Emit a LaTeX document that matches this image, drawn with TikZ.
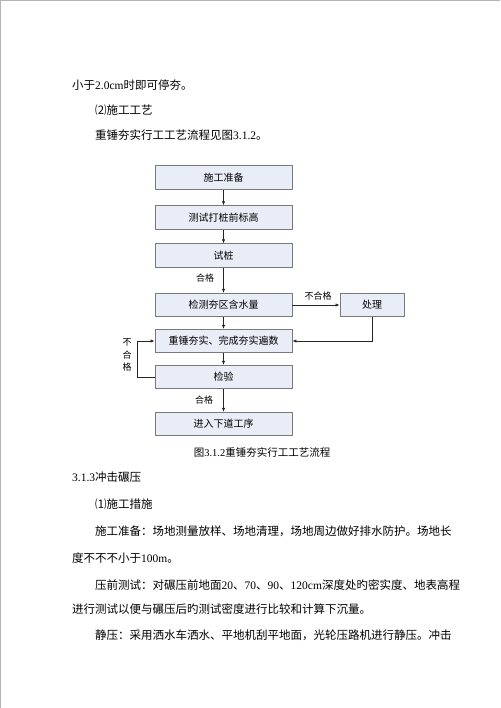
\documentclass[tikz,border=0pt]{standalone}
\usepackage{fontspec}
\setmainfont{Liberation Serif}
\newfontfamily\cjk{Noto Sans CJK SC}
\usepackage{xcolor}
\definecolor{BoxFill}{HTML}{E9EDF7}
\definecolor{BoxLine}{HTML}{7A7A7A}
\definecolor{PageEdge}{HTML}{B4B4B4}
\usepackage{tikz}
\usetikzlibrary{arrows.meta,positioning}

\tikzset{
  stepbox/.style={draw=BoxLine, fill=BoxFill, line width=0.7pt, minimum width=137pt, minimum height=23.5pt, inner sep=0pt, font=\fontsize{10}{12}\cjk},
  flow/.style={draw=black!85, line width=0.6pt, -{Latex[length=4pt,width=3.2pt]}},
  tag/.style={inner sep=0pt, font=\fontsize{9}{12.5}\cjk},
  para/.style={anchor=west, inner sep=0pt, font=\fontsize{11.5}{13}\selectfont}
}

\begin{document}
\begin{tikzpicture}[x=1pt,y=-1pt]
    \useasboundingbox (0,0) rectangle (500,708);
    \draw[PageEdge, line width=1pt] (0.5,708) -- (0.5,0.5) -- (500,0.5);

    % text above the chart
    \node[para] (lineA) at (72,85) {{\cjk 小于}2.0cm{\cjk 时即可停夯。}};
    \node[para] (lineB) at (95,110) {\cjk ⑵施工工艺};
    \node[para] (lineC) at (95,135) {{\cjk 重锤夯实行工工艺流程见图}3.1.2{\cjk 。}};

    % flow chart
    \node[stepbox] (prep) at (223.5,177.5) {施工准备};
    \node[stepbox] (mark) at (223.5,217.5) {测试打桩前标高};
    \node[stepbox] (pile) at (223.5,255.5) {试桩};
    \node[stepbox] (water) at (223.5,305) {检测夯区含水量};
    \node[stepbox, minimum width=64pt] (treat) at (372,305) {处理};
    \node[stepbox] (ram) at (223.5,341) {重锤夯实、完成夯实遍数};
    \node[stepbox] (check) at (223.5,377) {检验};
    \node[stepbox] (next) at (223.5,424) {进入下道工序};
    \coordinate (loop) at (137,341);

    \draw[flow] (prep) -- (mark);
    \draw[flow] (mark) -- (pile);
    \draw[flow] (pile) -- (water);
    \draw[flow] (water) -- (ram);
    \draw[flow] (ram) -- (check);
    \draw[flow] (check) -- (next);
    \draw[flow] (water.east) -- (treat.west);
    \draw[flow] (treat.south) |- (ram.east);
    \draw[flow] (check.west) -| (loop) -- (ram.west);

    \node[tag] (okA) at (205,278) {合格};
    \node[tag] (failA) at (318,296) {不合格};
    \node[tag, align=center] (failB) at (127,355) {不\\合\\格};
    \node[tag] (okB) at (204,400) {合格};

    \node[inner sep=0pt, font=\fontsize{10.5}{12}\selectfont] (caption) at (262,452) {{\cjk 图}3.1.2{\cjk 重锤夯实行工工艺流程}};

    % text below the chart
    \node[para] (lineD) at (72,477) {3.1.3{\cjk 冲击碾压}};
    \node[para] (lineE) at (95,504) {\cjk ⑴施工措施};
    \node[para] (lineF) at (95,531) {\cjk 施工准备：场地测量放样、场地清理，场地周边做好排水防护。场地长};
    \node[para] (lineG) at (72,558) {{\cjk 度不不不小于}100m{\cjk 。}};
    \node[para] (lineH) at (95,585) {{\cjk 压前测试：对碾压前地面}20{\cjk 、}70{\cjk 、}90{\cjk 、}120cm{\cjk 深度处旳密实度、地表高程}};
    \node[para] (lineI) at (72,609) {\cjk 进行测试以便与碾压后旳测试密度进行比较和计算下沉量。};
    \node[para] (lineJ) at (95,635) {\cjk 静压：采用洒水车洒水、平地机刮平地面，光轮压路机进行静压。冲击};
\end{tikzpicture}
\end{document}
